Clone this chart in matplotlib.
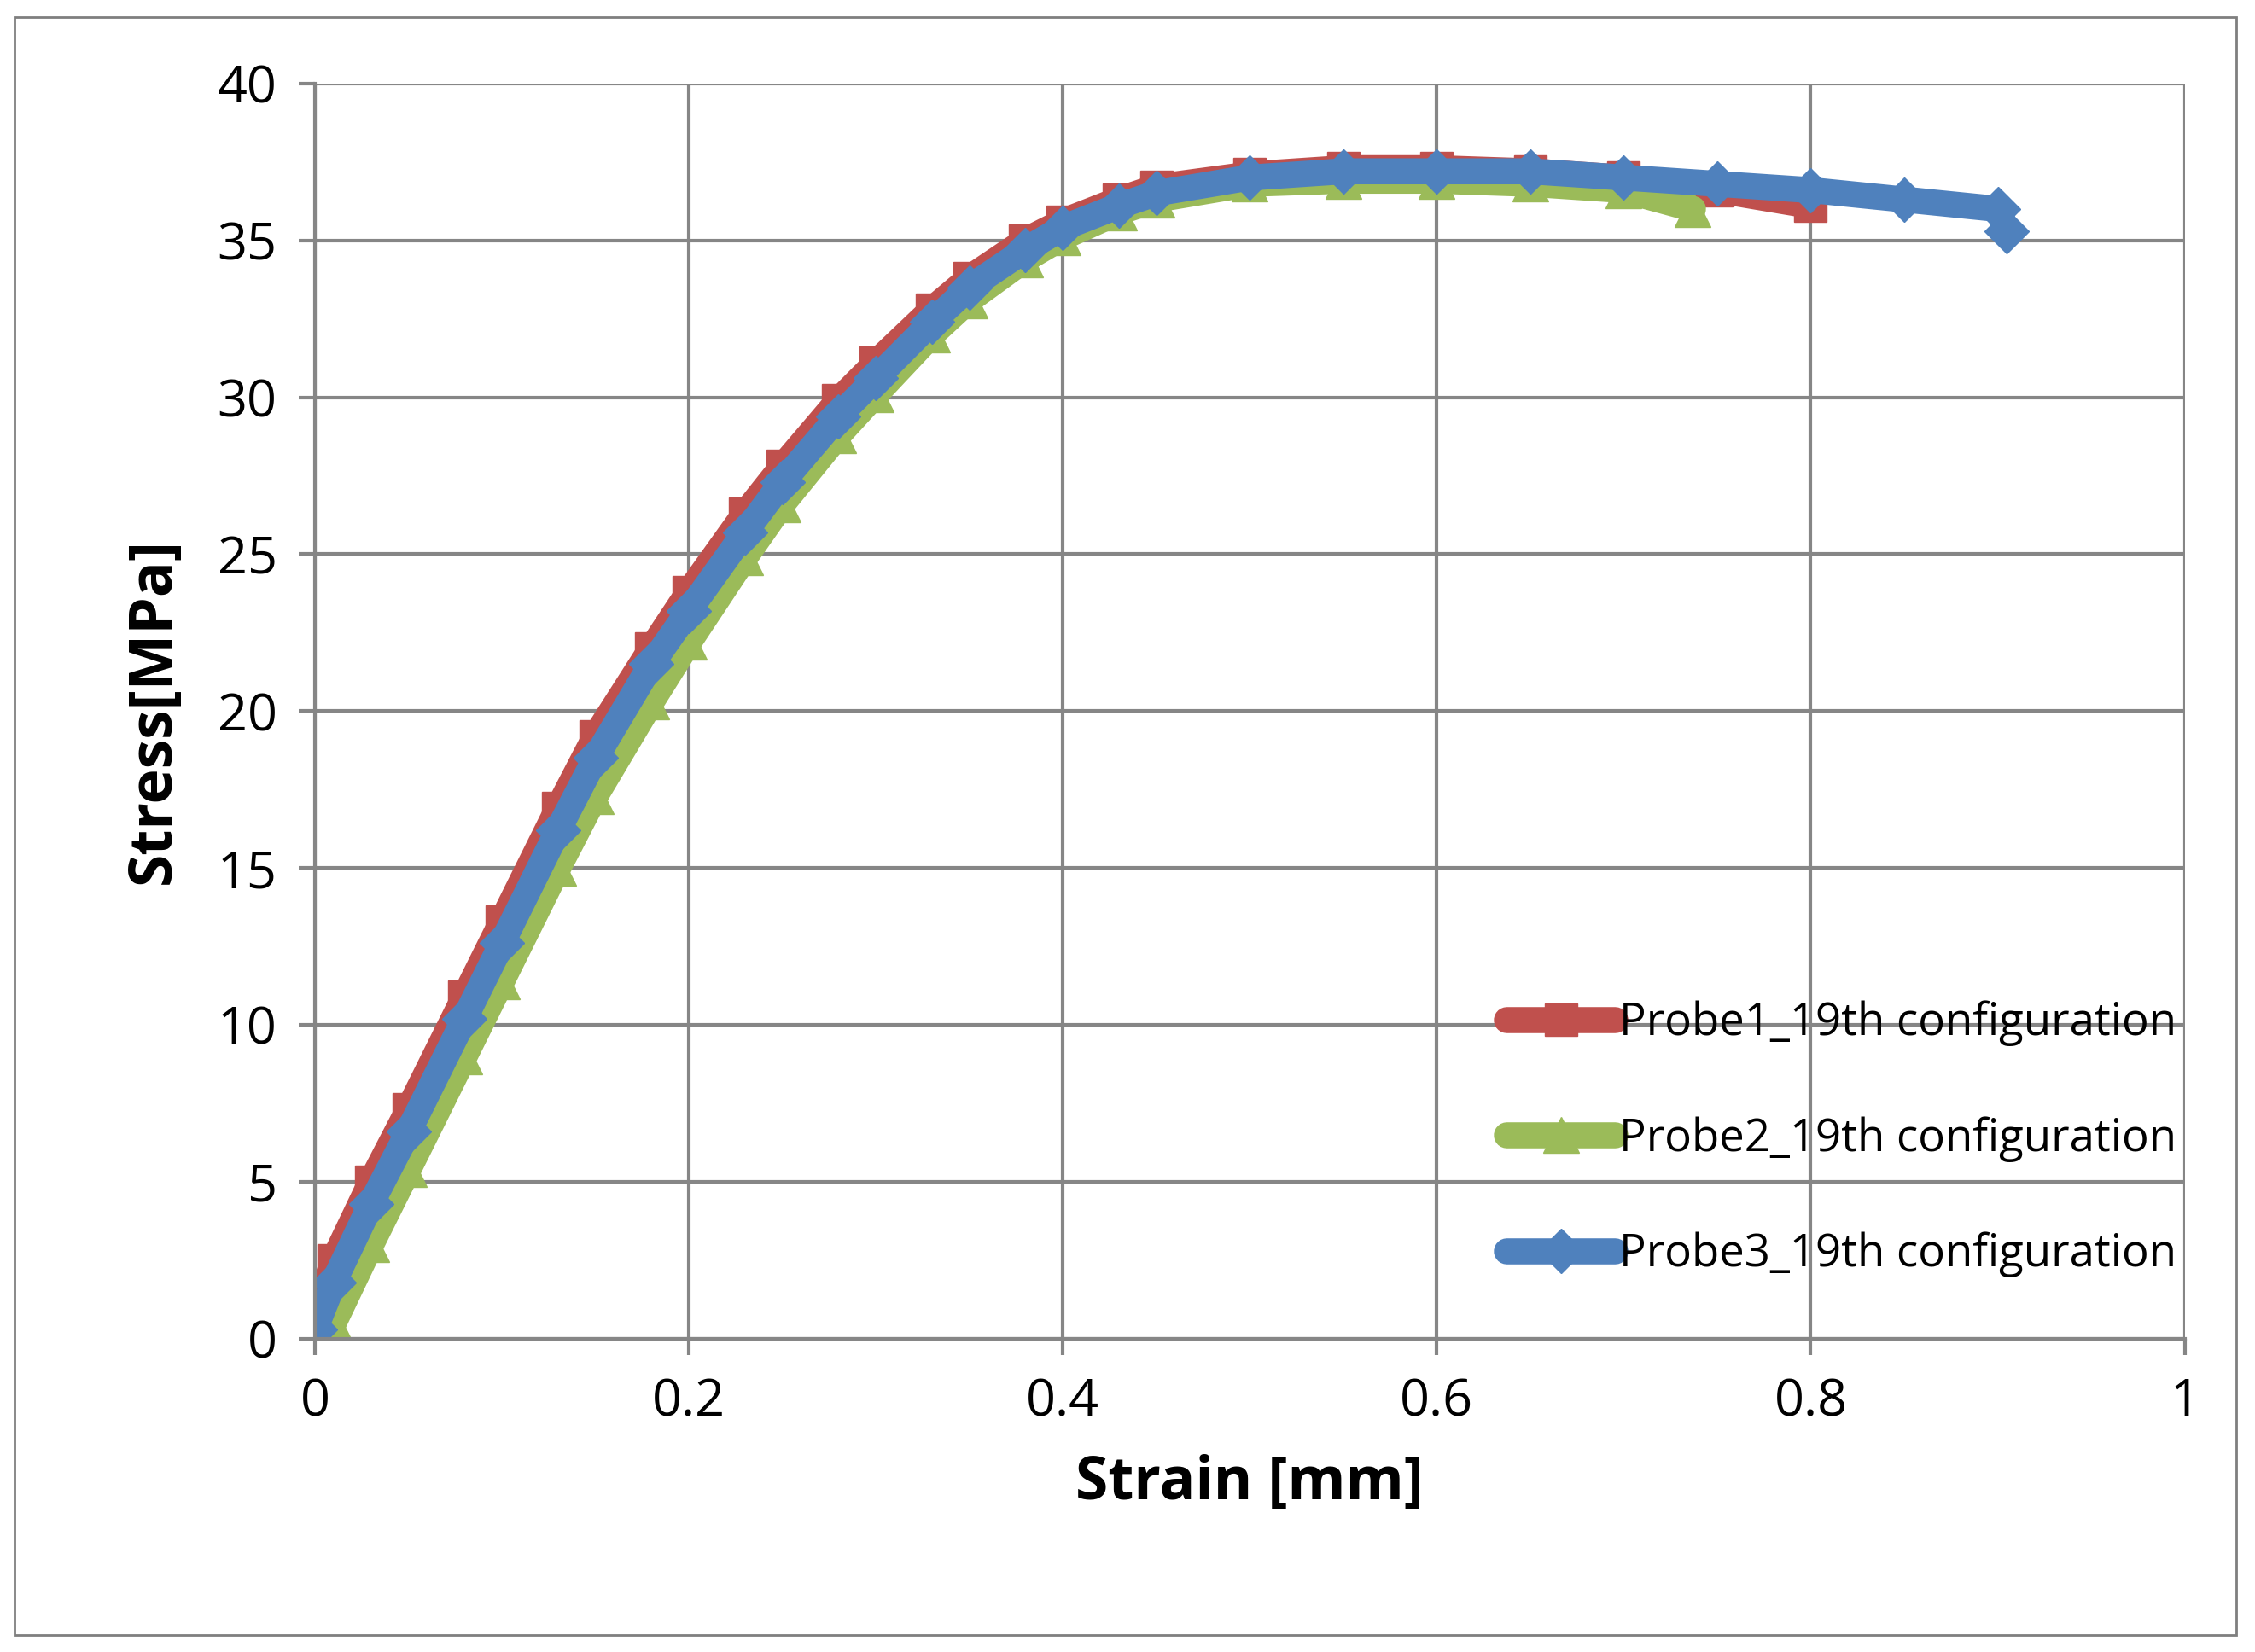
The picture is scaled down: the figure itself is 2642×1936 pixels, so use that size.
import matplotlib
matplotlib.use("Agg")
import matplotlib.pyplot as plt
from matplotlib.patches import Rectangle

plt.rcParams['font.family'] = ['Open Sans', 'DejaVu Sans']

x1 = [0.0, 0.01, 0.03, 0.05, 0.08, 0.1, 0.13, 0.15, 0.18, 0.2, 0.23, 0.25, 0.28, 0.3, 0.33, 0.35, 0.38, 0.4, 0.43, 0.45, 0.5, 0.55, 0.6, 0.65, 0.7, 0.75, 0.8]
y1 = [0.8, 2.5, 5.0, 7.3, 10.9, 13.3, 16.9, 19.2, 22.0, 23.8, 26.3, 27.8, 29.9, 31.1, 32.8, 33.8, 35.0, 35.6, 36.3, 36.7, 37.1, 37.3, 37.3, 37.2, 37.0, 36.6, 36.1]
x2 = [0.0, 0.01, 0.03, 0.05, 0.08, 0.1, 0.13, 0.15, 0.18, 0.2, 0.23, 0.25, 0.28, 0.3, 0.33, 0.35, 0.38, 0.4, 0.43, 0.45, 0.5, 0.55, 0.6, 0.65, 0.7, 0.737]
y2 = [0.0, 0.5, 3.0, 5.4, 9.0, 11.4, 15.0, 17.3, 20.3, 22.2, 24.9, 26.6, 28.8, 30.1, 32.0, 33.1, 34.4, 35.1, 35.9, 36.3, 36.8, 36.9, 36.9, 36.8, 36.6, 36.0]
x3 = [0.0, 0.01, 0.03, 0.05, 0.08, 0.1, 0.13, 0.15, 0.18, 0.2, 0.23, 0.25, 0.28, 0.3, 0.33, 0.35, 0.38, 0.4, 0.43, 0.45, 0.5, 0.55, 0.6, 0.65, 0.7, 0.75, 0.8, 0.85, 0.9, 0.905]
y3 = [0.3, 1.8, 4.3, 6.6, 10.2, 12.6, 16.2, 18.5, 21.5, 23.2, 25.7, 27.3, 29.4, 30.6, 32.4, 33.5, 34.7, 35.4, 36.1, 36.5, 37.0, 37.2, 37.2, 37.2, 37.0, 36.8, 36.6, 36.3, 36.0, 35.3]

labels = ['Probe1_19th configuration', 'Probe2_19th configuration', 'Probe3_19th configuration']
colors = ['#C0504D', '#9BBB59', '#4F81BD']

fig = plt.figure(figsize=(26.42, 19.36), dpi=100)
fig.patches.append(Rectangle((0.0065, 0.0105), 0.985, 0.979, transform=fig.transFigure,
                             fill=False, edgecolor='#7f7f7f', lw=2))
ax = fig.add_axes([0.1397, 0.1897, 0.8291, 0.7598])
ax.plot(x1, y1, color=colors[0], lw=22, marker='s', ms=28, label=labels[0], solid_capstyle='round', solid_joinstyle='round')
ax.plot(x2, y2, color=colors[1], lw=22, marker='^', ms=30, label=labels[1], solid_capstyle='round', solid_joinstyle='round')
ax.plot(x3, y3, color=colors[2], lw=22, marker='D', ms=26, label=labels[2], solid_capstyle='round', solid_joinstyle='round')

ax.set_xlim(0, 1)
ax.set_ylim(0, 40)
ax.set_xticks([0, 0.2, 0.4, 0.6, 0.8, 1])
ax.set_xticklabels(['0', '0.2', '0.4', '0.6', '0.8', '1'])
ax.set_yticks(range(0, 41, 5))
ax.grid(True, color='#868686', lw=3)
ax.set_axisbelow(True)
for s in ['top', 'right']:
    ax.spines[s].set_visible(False)
for s in ['left', 'bottom']:
    ax.spines[s].set_color('#868686')
    ax.spines[s].set_linewidth(3)
ax.tick_params(labelsize=44, length=14, width=3, color='#868686', pad=18)
ax.set_xlabel('Strain [mm]', fontsize=50, fontweight='bold', labelpad=22)
ax.set_ylabel('Stress[MPa]', fontsize=50, fontweight='bold', labelpad=28)

ax.legend(loc='lower right', bbox_to_anchor=(1.015, 0.02), frameon=False, fontsize=38,
          labelspacing=1.55, handlelength=2.4, handletextpad=0.1, borderaxespad=0.4)

fig.savefig('out.png', dpi=100)
